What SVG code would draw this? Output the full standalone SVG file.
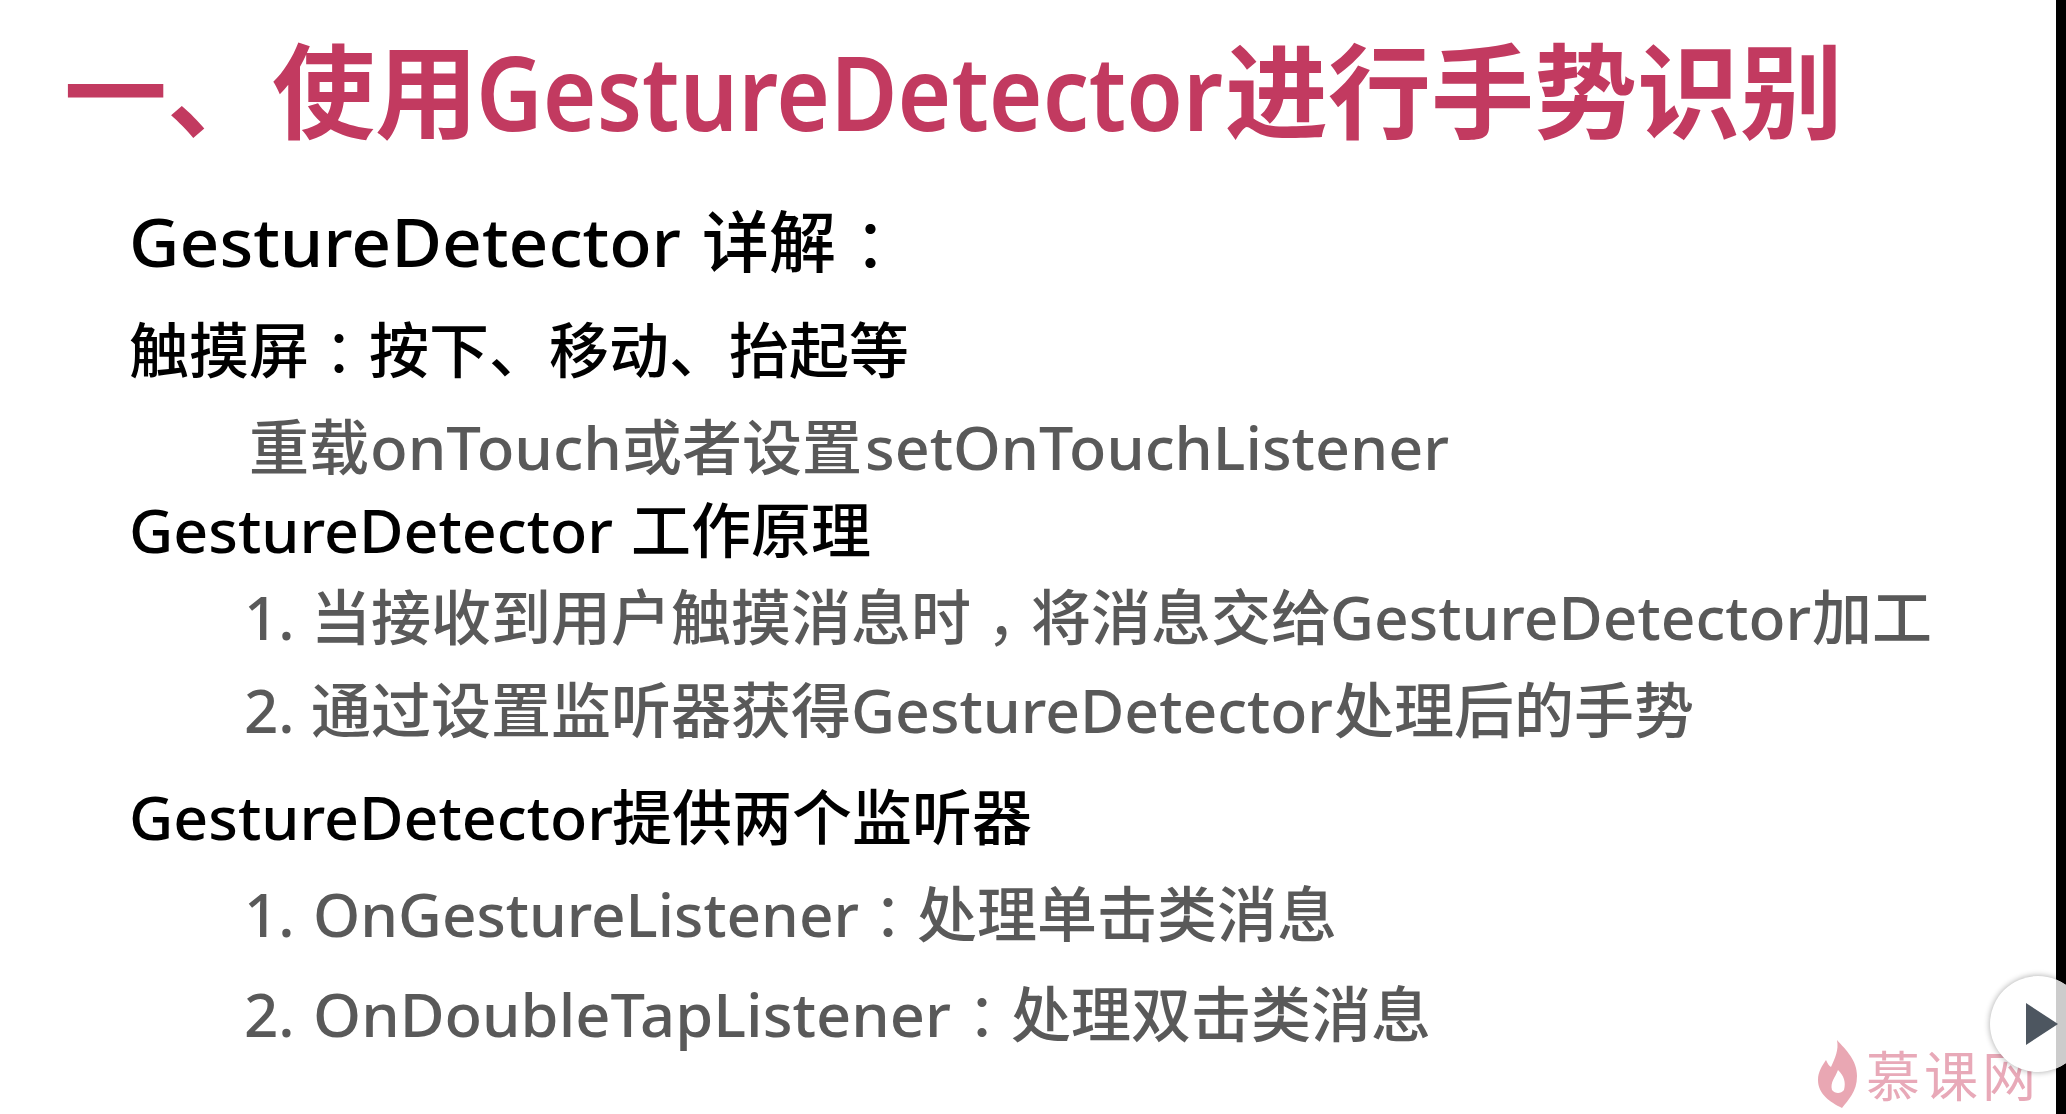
<svg xmlns="http://www.w3.org/2000/svg" width="2066" height="1114" viewBox="0 0 2066 1114">
<defs><filter id="sh" x="-30%" y="-30%" width="160%" height="160%"><feGaussianBlur stdDeviation="3"/></filter></defs>
<style>
text{font-family:"Noto Sans","Noto Sans CJK SC",sans-serif;white-space:pre}
.t{fill:#c23a60;font-size:103px;font-weight:700}
.tl{font-weight:600}
.b{fill:#000;font-size:60px;font-weight:500}
.g{fill:#595959;font-size:60px;font-weight:500}
.w{fill:#e8a9b8;font-size:54px;font-weight:400}
.c{font-family:"Noto Sans CJK TC",sans-serif;font-weight:400}
</style>
<rect width="2066" height="1114" fill="#fff"/>
<rect x="2056" y="0" width="10" height="1114" fill="#000"/>
<g id="title"><text class="t" y="131"><tspan x="64">一、</tspan><tspan x="272">使用</tspan><tspan class="tl" x="476" textLength="747" lengthAdjust="spacingAndGlyphs">GestureDetector</tspan><tspan x="1225">进行手势识别</tspan></text></g>
<g id="body">
<text class="b" y="267" style="font-size:67px"><tspan x="129" textLength="552" lengthAdjust="spacingAndGlyphs">GestureDetector</tspan><tspan x="702">详解</tspan><tspan class="c" x="837" y="271">：</tspan></text>
<text class="b" y="373"><tspan x="129">触摸屏</tspan><tspan class="c" x="309" y="376">：</tspan><tspan x="369" y="373">按下、移动、抬起等</tspan></text>
<text class="g" y="470"><tspan x="249">重载</tspan><tspan x="370" textLength="252" lengthAdjust="spacingAndGlyphs">onTouch</tspan><tspan x="622">或者设置</tspan><tspan x="865" textLength="584" lengthAdjust="spacingAndGlyphs">setOnTouchListener</tspan></text>
<text class="b" y="553"><tspan x="129" textLength="484" lengthAdjust="spacingAndGlyphs">GestureDetector</tspan><tspan x="631">工作原理</tspan></text>
<text class="g" y="640"><tspan x="244">1.</tspan><tspan x="311">当接收到用户触摸消息时</tspan><tspan class="c" x="971" y="658">，</tspan><tspan x="1031" y="640">将消息交给</tspan><tspan x="1330" textLength="481" lengthAdjust="spacingAndGlyphs">GestureDetector</tspan><tspan x="1812">加工</tspan></text>
<text class="g" y="733"><tspan x="244">2.</tspan><tspan x="311">通过设置监听器获得</tspan><tspan x="851" textLength="482" lengthAdjust="spacingAndGlyphs">GestureDetector</tspan><tspan x="1334">处理后的手势</tspan></text>
<text class="b" y="840"><tspan x="129" textLength="484" lengthAdjust="spacingAndGlyphs">GestureDetector</tspan><tspan x="612">提供两个监听器</tspan></text>
<text class="g" y="937"><tspan x="244">1.</tspan><tspan x="313" textLength="546" lengthAdjust="spacingAndGlyphs">OnGestureListener</tspan><tspan class="c" x="858" y="940">：</tspan><tspan x="917" y="937">处理单击类消息</tspan></text>
<text class="g" y="1037"><tspan x="244">2.</tspan><tspan x="313" textLength="638" lengthAdjust="spacingAndGlyphs">OnDoubleTapListener</tspan><tspan class="c" x="952" y="1040">：</tspan><tspan x="1011" y="1037">处理双击类消息</tspan></text>
</g>
<g id="watermark">
<path d="M1837 1040C1846 1050 1857 1060 1857 1076C1857 1092 1848 1100 1842 1108C1830 1102 1818 1094 1818 1080C1818 1072 1822 1066 1826 1060C1828 1064 1829 1066 1831 1067C1835 1058 1839 1050 1837 1040z" fill="#e9a7b3"/>
<path d="M1838 1070C1844 1076 1846 1082 1844 1090C1841 1094 1835 1094 1832 1090C1830 1082 1835 1078 1838 1070z" fill="#fff"/>
<text class="w" x="1866" y="1097" textLength="170" lengthAdjust="spacing">慕课网</text>
</g>
<g id="play">
<circle cx="2038" cy="1024" r="48" fill="#000" opacity=".35" filter="url(#sh)"/>
<circle cx="2038" cy="1024" r="48" fill="#fff"/>
<path d="M2056 979.5V1068.5A48 48 0 0 0 2056 979.5z" fill="#ccc"/>
<path d="M2026 1003L2058 1024L2026 1045z" fill="#4d5660"/>
</g>
</svg>
